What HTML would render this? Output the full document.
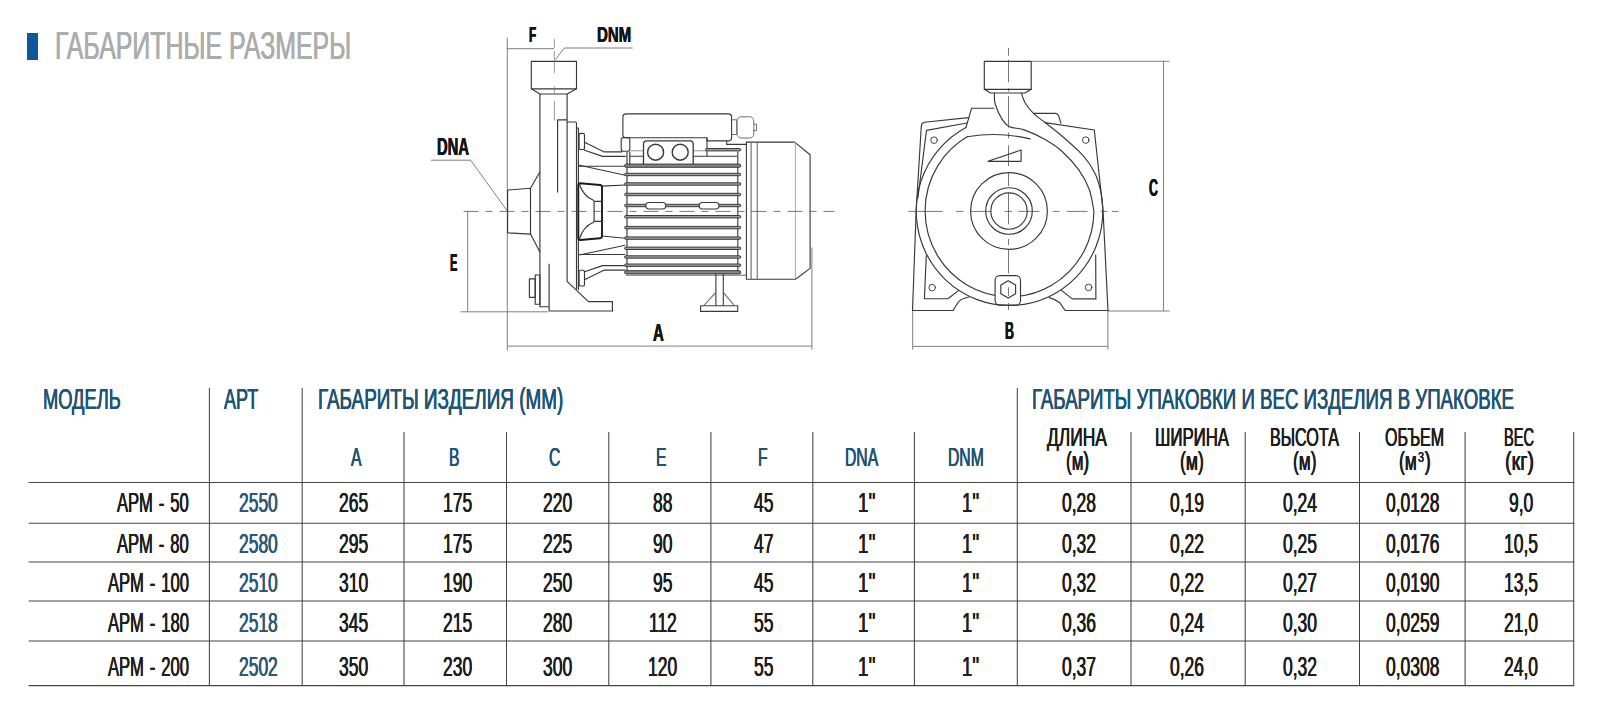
<!DOCTYPE html>
<html lang="ru">
<head>
<meta charset="utf-8">
<title>Габаритные размеры</title>
<style>
html,body{margin:0;padding:0;background:#fff;}
body{width:1600px;height:711px;position:relative;overflow:hidden;font-family:"Liberation Sans",sans-serif;}
.t{position:absolute;white-space:nowrap;line-height:1;transform-origin:0 0;display:block;}
.ttl{color:#adadad;text-shadow:.3px 0 0 currentColor,-.3px 0 0 currentColor;}
.h{color:#1f5476;text-shadow:.4px 0 0 currentColor,-.4px 0 0 currentColor;}
.d{color:#1e1e1e;text-shadow:.4px 0 0 currentColor,-.4px 0 0 currentColor;}
.a{color:#2b5977;text-shadow:.4px 0 0 currentColor,-.4px 0 0 currentColor;}
.l{color:#141414;font-weight:bold;text-shadow:.25px 0 0 currentColor,-.25px 0 0 currentColor;}
.bar{position:absolute;left:27.2px;top:33px;width:10.4px;height:26.6px;background:#0e5a98;}
svg{position:absolute;left:0;top:0;}
sup{font-size:.62em;line-height:0;vertical-align:.5em;margin:0 1.2px 0 1.6px;}
</style>
</head>
<body>
<div class="bar"></div>
<svg width="1600" height="711" viewBox="0 0 1600 711">
<g id="grid" stroke="#444" stroke-width="1.05" fill="none">
<path d="M28.6 482.4H1574.2"/>
<path d="M28.6 523.3H1574.2"/>
<path d="M28.6 562.0H1574.2"/>
<path d="M28.6 601.0H1574.2"/>
<path d="M28.6 641.0H1574.2"/>
<path d="M28.6 685.6H1574.2"/>
<path d="M209.4 388V685.6"/>
<path d="M302.2 388V685.6"/>
<path d="M1017.3 388V685.6"/>
<path d="M404.0 432V685.6"/>
<path d="M506.5 432V685.6"/>
<path d="M608.8 432V685.6"/>
<path d="M710.9 432V685.6"/>
<path d="M812.8 432V685.6"/>
<path d="M914.4 432V685.6"/>
<path d="M1131.0 432V685.6"/>
<path d="M1245.2 432V685.6"/>
<path d="M1359.5 432V685.6"/>
<path d="M1465.1 432V685.6"/>
<path d="M1573.7 432V685.6"/>
</g>
<g id="dims" stroke="#707070" stroke-width="0.9" fill="none">
<path d="M507.3 37.8V350.5"/>
<path d="M506.8 48.7H554.2"/>
<path d="M632.7 48H564.3L555.4 59.6"/>
<path d="M431 160.2H470.7L507.4 211.2"/>
<path d="M467.7 211.3V311.8"/>
<path d="M460.5 311.8H547.8"/>
<path d="M507.3 346.1H812"/>
<path d="M811.9 247.5V349.6"/>
<path d="M1031.5 61.3H1169.5"/>
<path d="M1107.6 311H1169.5"/>
<path d="M1163.5 61.3V311"/>
<path d="M912.7 310.4V349.6"/>
<path d="M1107.9 310.4V349.6"/>
<path d="M912.7 346.4H1107.9"/>
</g>
<g id="side" stroke="#383838" stroke-width="1.15" fill="none" stroke-linejoin="round">
<path d="M531.3 61.3H576.5V88.8H531.3Z"/>
<path d="M531.3 88.8L539.9 94H567.1L576.5 88.8"/>
<path d="M539.9 94V306.7H549.1"/>
<path d="M567.1 94V281.4L588.4 301.6H612.4V311H549.1V263.7"/>
<path d="M507.6 190L530.5 188.3V234.1L507.6 232.8Z"/>
<path d="M530.5 188.3L540 171.8M530.5 234.1L540 252.2"/>
<path d="M557.6 192.4V119.8H567.1"/>
<path d="M567.1 122H575Q576.5 122 576.5 123.5V289.5"/>
<path d="M576.6 128H578.4V290"/>
<rect x="579.1" y="133.3" width="5.4" height="16.2" rx="1.6"/>
<rect x="579.1" y="270.2" width="5.4" height="15.8" rx="1.6"/>
<path d="M529.4 278.9H535.2V297.3H529.4Z"/>
<path d="M535.2 275H539.9V304.2H535.2Z"/>
<path d="M584.5 142.3L604.3 151.9H622.2"/>
<path d="M583.9 150L602.5 156.4H625.8"/>
<path d="M578.4 166.2H625.2"/>
<path d="M578.4 165L625.2 175.2"/>
<path d="M584.5 279.7L604.3 270.1H625.5"/>
<path d="M583.9 272L602.5 265.6H625.8"/>
<path d="M579.4 254.5H625.2"/>
<path d="M579.4 255L625.2 245.2"/>
<path d="M580.2 183.2L600 185Q602 185.2 602 187V236Q602 238 600 238.2L580.2 240Q578.3 240 578.3 237.5V185.7Q578.3 183.2 580.2 183.2Z" stroke-width="1.9" stroke="#1c1c1c"/>
<path d="M579.5 184.5C582 192 587 197.5 593 200L594.1 201.3V221.4L593 222.5C587 225 582 231 579.5 238.7"/>
<path d="M594.1 201.3H601.8M594.1 221.4H601.8"/>
<path d="M602 186.1L625.5 185M602 236L625.5 238.2"/>
<path d="M627 151.9V273M629.8 151.9V164.5"/>
</g>
<g id="motor" stroke="#383838" stroke-width="1.1" fill="none" stroke-linejoin="round">
<path d="M626.1 113.9H728.4Q731.6 113.9 731.6 117.1V137.7Q731.6 140.9 728.4 140.9H707V137.8H626.1Q622.9 137.8 622.9 134.6V117.1Q622.9 113.9 626.1 113.9Z"/>
<rect x="621.2" y="137.6" width="8.6" height="13.7" rx="2"/>
<path d="M707 137.8V156.2"/>
<path d="M629.8 156.2H643.5M693.2 156.2H737.5"/>
<path d="M693.2 150.8H707M629.8 150.8H643.5" stroke="#888" stroke-width="0.9"/>
<path d="M643.5 164V144.1Q643.5 140.9 646.7 140.9H690Q693.2 140.9 693.2 144.1V164" stroke-width="1.3"/>
<circle cx="655.6" cy="152.2" r="8" stroke-width="1.4"/><circle cx="680.2" cy="152.2" r="8" stroke-width="1.4"/>
<g stroke="#666" stroke-width="0.95">
<path d="M731.6 119.8H736.8V134.5H731.6"/>
<rect x="737" y="116.8" width="16.8" height="21.2" rx="4.2"/>
<path d="M753.8 124.2H756.5V130.6H753.8"/>
</g>
<path d="M726.7 140.9V144.4H746.4"/>
<rect x="705.5" y="148.5" width="35.3" height="2.4" rx="1.2" fill="#a0a0a0" stroke="#333" stroke-width="0.95"/>
<path d="M737.8 151.5V272.3"/>
<rect x="624.6" y="164.1" width="116.2" height="3.2" rx="1.6" fill="#888" stroke="#333" stroke-width="0.95"/>
<rect x="624.6" y="173.3" width="116.2" height="2.4" rx="1.2" fill="#a0a0a0" stroke="#333" stroke-width="0.95"/>
<rect x="624.6" y="182.8" width="116.2" height="2.4" rx="1.2" fill="#a0a0a0" stroke="#333" stroke-width="0.95"/>
<rect x="624.6" y="193.3" width="116.2" height="2.4" rx="1.2" fill="#a0a0a0" stroke="#333" stroke-width="0.95"/>
<rect x="624.6" y="204.3" width="116.2" height="2.4" rx="1.2" fill="#a0a0a0" stroke="#333" stroke-width="0.95"/>
<rect x="624.6" y="215.5" width="116.2" height="2.4" rx="1.2" fill="#a0a0a0" stroke="#333" stroke-width="0.95"/>
<rect x="624.6" y="226.4" width="116.2" height="2.4" rx="1.2" fill="#a0a0a0" stroke="#333" stroke-width="0.95"/>
<rect x="624.6" y="236.9" width="116.2" height="2.4" rx="1.2" fill="#a0a0a0" stroke="#333" stroke-width="0.95"/>
<rect x="624.6" y="247.1" width="116.2" height="2.4" rx="1.2" fill="#a0a0a0" stroke="#333" stroke-width="0.95"/>
<rect x="624.6" y="255.8" width="116.2" height="2.4" rx="1.2" fill="#a0a0a0" stroke="#333" stroke-width="0.95"/>
<rect x="624.6" y="264.0" width="116.2" height="2.4" rx="1.2" fill="#a0a0a0" stroke="#333" stroke-width="0.95"/>
<rect x="624.6" y="270.7" width="116.2" height="3.2" rx="1.6" fill="#888" stroke="#333" stroke-width="0.95"/>
<rect x="645.8" y="202.5" width="20" height="6.5" rx="3.25" fill="#fff"/>
<rect x="699.2" y="202.5" width="19.8" height="6.5" rx="3.25" fill="#fff"/>
<path d="M746.4 142.1H794.6L810.1 154.8V268.4L795.5 279.2H746.4Z"/>
<path d="M751.1 142.1V279.2" stroke="#666"/>
<path d="M757.2 142.1V279.2" stroke="#555" stroke-width="0.95"/><path d="M795.4 142.1V279.2" stroke="#999" stroke-width="0.85"/>
<path d="M626 275.2H746.4" stroke="#555" stroke-width="0.9"/>
<path d="M715.9 273.9V305.7M723.3 273.9V305.7"/>
<path d="M700.6 305.7H737.7V311.4H700.6Z"/>
<path d="M715.9 292.3L703.8 305.5M723.3 292.3L734.3 305.5" stroke="#666"/>
</g>
<g id="front" stroke="#383838" stroke-width="1.15" fill="none" stroke-linejoin="round" stroke-linecap="round">
<path d="M984.3 61.3H1031.2V89.3H984.3Z"/>
<path d="M984.3 89.3L990.5 93H1025L1031.2 89.3"/>
<path d="M993.9 108.2H971.6L966.0 127.4"/>
<path d="M968.5 117.6L924.5 122.3Q921.6 122.8 921.3 126L916.2 210L912.5 310.4"/>
<path d="M966.9 123L926.5 130.4L917.9 198"/>
<path d="M1033.9 113.4H1055.4Q1057.8 113.4 1058.6 115.8L1060.9 123.2"/>
<path d="M1045 122.6L1094.3 130L1103 210L1108 310.4"/>
<path d="M994.4 93.0C994.5 94.8 993.9 99.7 995.2 104.0C996.5 108.3 999.6 115.3 1002.0 119.1C1004.4 122.9 1005.8 124.9 1009.6 126.7C1013.4 128.5 1018.9 128.0 1024.8 130.1C1030.7 132.2 1038.8 135.9 1045.0 139.4C1051.2 142.9 1056.3 146.1 1061.9 151.2C1067.5 156.3 1074.2 163.4 1078.8 169.8C1083.4 176.2 1086.8 182.6 1089.3 189.5C1091.8 196.4 1093.1 207.4 1093.9 211.0A84.4 85.7 0 1 1 967.2 136.8"/>
<path d="M967.2 136.8Q999 131.4 1030.2 138.9"/>
<rect x="995.1" y="275.6" width="25.4" height="29.5" rx="4.6" fill="#fff"/>
<path d="M1021.4 93.0C1022.0 94.5 1022.8 98.9 1024.8 102.3C1026.8 105.7 1029.8 109.8 1033.2 113.2C1036.6 116.6 1040.2 118.7 1045.0 122.5C1049.8 126.3 1056.3 131.2 1061.9 136.0C1067.5 140.8 1074.3 146.7 1078.8 151.2C1083.3 155.7 1086.1 159.0 1088.9 163.0C1091.7 167.0 1094.6 173.0 1095.8 175.0A93.3 94.5 0 1 1 966.0 127.4"/>
<circle cx="1009" cy="211" r="18.2"/>
<circle cx="1009" cy="211" r="23.3"/>
<circle cx="1009" cy="211" r="38.4"/>
<path d="M988 161.3L1021.1 150V161.3Z"/>
<path d="M912.5 310.5H953.1L958 302.5Q961 298.6 968.9 297"/>
<path d="M1108 310.5H1065.1L1059.9 302.9Q1056 299.3 1049.4 297.6"/>
<path d="M926.3 255.5L924.4 298.7H947.9L958.8 290.4"/>
<path d="M1095.7 255L1095.9 298.9H1072.1L1061.6 290.4"/>
<circle cx="934.1" cy="140.2" r="3.3" stroke-width="0.95"/>
<circle cx="1085.8" cy="140.1" r="3.3" stroke-width="0.95"/>
<circle cx="932.2" cy="287.6" r="3.3" stroke-width="0.95"/>
<circle cx="1088.6" cy="287.4" r="3.3" stroke-width="0.95"/>
<path d="M1008.2 280.8L1015.6 285.1L1015.6 293.7L1008.2 298.0L1000.8 293.7L1000.8 285.1Z"/>
</g>
<g id="center" stroke="#4a4a4a" stroke-width="0.75" fill="none">
<path d="M554.4 39V47.5M554.4 51V73M554.4 86.3V93.3M554.4 101V120.5" stroke="#777"/>
<path d="M463.5 211.4H834.5" stroke-dasharray="15 7 7 7"/>
<path d="M1008.5 47.9V55.7M1008.5 59.7V82.3M1008.5 88.2V91.6M1008.5 96.1V127.6M1008.5 132.5V138.4M1008.5 145.3V166M1008.5 172V186M1008.5 192.8V224.3M1008.5 239V245M1008.5 248.9V273.5M1008.5 287.3V296.1M1008.5 303V310"/>
<path d="M908.2 211.4H942.7M955.9 211.4H963.3M970.6 211.4H991.2M1004.5 211.4H1012M1018.3 211.4H1039.6M1052.9 211.4H1059.5M1066.8 211.4H1087.4M1100.6 211.4H1107.2M1112 211.4H1118.5"/>
</g>

</svg>
<span class="t ttl" style="left:55.00px;top:26.80px;font-size:38.8px;transform:scaleX(0.6413)">ГАБАРИТНЫЕ РАЗМЕРЫ</span>
<span class="t h" style="left:42.75px;top:384.70px;font-size:29px;transform:scaleX(0.6307)">МОДЕЛЬ</span>
<span class="t h" style="left:223.90px;top:384.70px;font-size:29px;transform:scaleX(0.6204)">АРТ</span>
<span class="t h" style="left:318.00px;top:384.70px;font-size:29px;transform:scaleX(0.6517)">ГАБАРИТЫ ИЗДЕЛИЯ (ММ)</span>
<span class="t h" style="left:1032.30px;top:384.70px;font-size:29px;transform:scaleX(0.6436)">ГАБАРИТЫ УПАКОВКИ И ВЕС ИЗДЕЛИЯ В УПАКОВКЕ</span>
<span class="t h" style="left:350.67px;top:444.30px;font-size:26.2px;transform:scaleX(0.6000)">A</span>
<span class="t h" style="left:448.67px;top:444.30px;font-size:26.2px;transform:scaleX(0.6000)">B</span>
<span class="t h" style="left:549.32px;top:444.30px;font-size:26.2px;transform:scaleX(0.6000)">C</span>
<span class="t h" style="left:655.77px;top:444.30px;font-size:26.2px;transform:scaleX(0.6000)">E</span>
<span class="t h" style="left:758.39px;top:444.30px;font-size:26.2px;transform:scaleX(0.6000)">F</span>
<span class="t h" style="left:844.92px;top:444.30px;font-size:26.2px;transform:scaleX(0.6000)">DNA</span>
<span class="t h" style="left:948.10px;top:444.30px;font-size:26.2px;transform:scaleX(0.6000)">DNM</span>
<span class="t d" style="left:1046.90px;top:425.20px;font-size:25px;transform:scaleX(0.6967)">ДЛИНА</span>
<span class="t d" style="left:1065.60px;top:449.20px;font-size:25px;transform:scaleX(0.6819)">(м)</span>
<span class="t d" style="left:1154.70px;top:425.20px;font-size:25px;transform:scaleX(0.6713)">ШИРИНА</span>
<span class="t d" style="left:1179.60px;top:449.20px;font-size:25px;transform:scaleX(0.7026)">(м)</span>
<span class="t d" style="left:1270.00px;top:425.20px;font-size:25px;transform:scaleX(0.6449)">ВЫСОТА</span>
<span class="t d" style="left:1293.00px;top:449.20px;font-size:25px;transform:scaleX(0.6937)">(м)</span>
<span class="t d" style="left:1385.30px;top:425.20px;font-size:25px;transform:scaleX(0.6407)">ОБЪЕМ</span>
<span class="t d" style="left:1399.40px;top:449.20px;font-size:25px;transform:scaleX(0.7000)">(м<sup>3</sup>)</span>
<span class="t d" style="left:1504.40px;top:425.20px;font-size:25px;transform:scaleX(0.5839)">ВЕС</span>
<span class="t d" style="left:1505.00px;top:449.20px;font-size:25px;transform:scaleX(0.7891)">(кг)</span>
<span class="t d" style="left:116.76px;top:489.70px;font-size:27px;word-spacing:2.2px;transform:scaleX(0.6150)">АРМ - 50</span>
<span class="t a" style="left:239.10px;top:489.70px;font-size:27px;transform:scaleX(0.6460)">2550</span>
<span class="t d" style="left:339.35px;top:489.70px;font-size:27px;transform:scaleX(0.6460)">265</span>
<span class="t d" style="left:443.05px;top:489.70px;font-size:27px;transform:scaleX(0.6460)">175</span>
<span class="t d" style="left:542.95px;top:489.70px;font-size:27px;transform:scaleX(0.6460)">220</span>
<span class="t d" style="left:653.30px;top:489.70px;font-size:27px;transform:scaleX(0.6460)">88</span>
<span class="t d" style="left:753.80px;top:489.70px;font-size:27px;transform:scaleX(0.6460)">45</span>
<span class="t d" style="left:858.40px;top:489.70px;font-size:27px;transform:scaleX(0.6936)">1''</span>
<span class="t d" style="left:961.90px;top:489.70px;font-size:27px;transform:scaleX(0.6778)">1''</span>
<span class="t d" style="left:1061.63px;top:489.70px;font-size:27px;transform:scaleX(0.6460)">0,28</span>
<span class="t d" style="left:1169.53px;top:489.70px;font-size:27px;transform:scaleX(0.6460)">0,19</span>
<span class="t d" style="left:1283.33px;top:489.70px;font-size:27px;transform:scaleX(0.6460)">0,24</span>
<span class="t d" style="left:1385.83px;top:489.70px;font-size:27px;transform:scaleX(0.6460)">0,0128</span>
<span class="t d" style="left:1509.28px;top:489.70px;font-size:27px;transform:scaleX(0.6460)">9,0</span>
<span class="t d" style="left:116.76px;top:531.00px;font-size:27px;word-spacing:2.2px;transform:scaleX(0.6150)">АРМ - 80</span>
<span class="t a" style="left:239.10px;top:531.00px;font-size:27px;transform:scaleX(0.6460)">2580</span>
<span class="t d" style="left:339.35px;top:531.00px;font-size:27px;transform:scaleX(0.6460)">295</span>
<span class="t d" style="left:443.05px;top:531.00px;font-size:27px;transform:scaleX(0.6460)">175</span>
<span class="t d" style="left:542.95px;top:531.00px;font-size:27px;transform:scaleX(0.6460)">225</span>
<span class="t d" style="left:653.30px;top:531.00px;font-size:27px;transform:scaleX(0.6460)">90</span>
<span class="t d" style="left:753.80px;top:531.00px;font-size:27px;transform:scaleX(0.6460)">47</span>
<span class="t d" style="left:858.40px;top:531.00px;font-size:27px;transform:scaleX(0.6936)">1''</span>
<span class="t d" style="left:961.90px;top:531.00px;font-size:27px;transform:scaleX(0.6778)">1''</span>
<span class="t d" style="left:1061.63px;top:531.00px;font-size:27px;transform:scaleX(0.6460)">0,32</span>
<span class="t d" style="left:1169.53px;top:531.00px;font-size:27px;transform:scaleX(0.6460)">0,22</span>
<span class="t d" style="left:1283.33px;top:531.00px;font-size:27px;transform:scaleX(0.6460)">0,25</span>
<span class="t d" style="left:1385.83px;top:531.00px;font-size:27px;transform:scaleX(0.6460)">0,0176</span>
<span class="t d" style="left:1504.43px;top:531.00px;font-size:27px;transform:scaleX(0.6460)">10,5</span>
<span class="t d" style="left:107.54px;top:569.80px;font-size:27px;word-spacing:2.2px;transform:scaleX(0.6150)">АРМ - 100</span>
<span class="t a" style="left:239.10px;top:569.80px;font-size:27px;transform:scaleX(0.6460)">2510</span>
<span class="t d" style="left:339.35px;top:569.80px;font-size:27px;transform:scaleX(0.6460)">310</span>
<span class="t d" style="left:443.05px;top:569.80px;font-size:27px;transform:scaleX(0.6460)">190</span>
<span class="t d" style="left:542.95px;top:569.80px;font-size:27px;transform:scaleX(0.6460)">250</span>
<span class="t d" style="left:653.30px;top:569.80px;font-size:27px;transform:scaleX(0.6460)">95</span>
<span class="t d" style="left:753.80px;top:569.80px;font-size:27px;transform:scaleX(0.6460)">45</span>
<span class="t d" style="left:858.40px;top:569.80px;font-size:27px;transform:scaleX(0.6936)">1''</span>
<span class="t d" style="left:961.90px;top:569.80px;font-size:27px;transform:scaleX(0.6778)">1''</span>
<span class="t d" style="left:1061.63px;top:569.80px;font-size:27px;transform:scaleX(0.6460)">0,32</span>
<span class="t d" style="left:1169.53px;top:569.80px;font-size:27px;transform:scaleX(0.6460)">0,22</span>
<span class="t d" style="left:1283.33px;top:569.80px;font-size:27px;transform:scaleX(0.6460)">0,27</span>
<span class="t d" style="left:1385.83px;top:569.80px;font-size:27px;transform:scaleX(0.6460)">0,0190</span>
<span class="t d" style="left:1504.43px;top:569.80px;font-size:27px;transform:scaleX(0.6460)">13,5</span>
<span class="t d" style="left:107.54px;top:609.80px;font-size:27px;word-spacing:2.2px;transform:scaleX(0.6150)">АРМ - 180</span>
<span class="t a" style="left:239.10px;top:609.80px;font-size:27px;transform:scaleX(0.6460)">2518</span>
<span class="t d" style="left:339.35px;top:609.80px;font-size:27px;transform:scaleX(0.6460)">345</span>
<span class="t d" style="left:443.05px;top:609.80px;font-size:27px;transform:scaleX(0.6460)">215</span>
<span class="t d" style="left:542.95px;top:609.80px;font-size:27px;transform:scaleX(0.6460)">280</span>
<span class="t d" style="left:649.10px;top:609.80px;font-size:27px;transform:scaleX(0.6460)">112</span>
<span class="t d" style="left:753.80px;top:609.80px;font-size:27px;transform:scaleX(0.6460)">55</span>
<span class="t d" style="left:858.40px;top:609.80px;font-size:27px;transform:scaleX(0.6936)">1''</span>
<span class="t d" style="left:961.90px;top:609.80px;font-size:27px;transform:scaleX(0.6778)">1''</span>
<span class="t d" style="left:1061.63px;top:609.80px;font-size:27px;transform:scaleX(0.6460)">0,36</span>
<span class="t d" style="left:1169.53px;top:609.80px;font-size:27px;transform:scaleX(0.6460)">0,24</span>
<span class="t d" style="left:1283.33px;top:609.80px;font-size:27px;transform:scaleX(0.6460)">0,30</span>
<span class="t d" style="left:1385.83px;top:609.80px;font-size:27px;transform:scaleX(0.6460)">0,0259</span>
<span class="t d" style="left:1504.43px;top:609.80px;font-size:27px;transform:scaleX(0.6460)">21,0</span>
<span class="t d" style="left:107.54px;top:653.90px;font-size:27px;word-spacing:2.2px;transform:scaleX(0.6150)">АРМ - 200</span>
<span class="t a" style="left:239.10px;top:653.90px;font-size:27px;transform:scaleX(0.6460)">2502</span>
<span class="t d" style="left:339.35px;top:653.90px;font-size:27px;transform:scaleX(0.6460)">350</span>
<span class="t d" style="left:443.05px;top:653.90px;font-size:27px;transform:scaleX(0.6460)">230</span>
<span class="t d" style="left:542.95px;top:653.90px;font-size:27px;transform:scaleX(0.6460)">300</span>
<span class="t d" style="left:648.45px;top:653.90px;font-size:27px;transform:scaleX(0.6460)">120</span>
<span class="t d" style="left:753.80px;top:653.90px;font-size:27px;transform:scaleX(0.6460)">55</span>
<span class="t d" style="left:858.40px;top:653.90px;font-size:27px;transform:scaleX(0.6936)">1''</span>
<span class="t d" style="left:961.90px;top:653.90px;font-size:27px;transform:scaleX(0.6778)">1''</span>
<span class="t d" style="left:1061.63px;top:653.90px;font-size:27px;transform:scaleX(0.6460)">0,37</span>
<span class="t d" style="left:1169.53px;top:653.90px;font-size:27px;transform:scaleX(0.6460)">0,26</span>
<span class="t d" style="left:1283.33px;top:653.90px;font-size:27px;transform:scaleX(0.6460)">0,32</span>
<span class="t d" style="left:1385.83px;top:653.90px;font-size:27px;transform:scaleX(0.6460)">0,0308</span>
<span class="t d" style="left:1504.43px;top:653.90px;font-size:27px;transform:scaleX(0.6460)">24,0</span>
<span class="t l" style="left:529.00px;top:23.95px;font-size:22.6px;transform:scaleX(0.5213)">F</span>
<span class="t l" style="left:596.90px;top:23.95px;font-size:22.6px;transform:scaleX(0.6644)">DNM</span>
<span class="t l" style="left:436.70px;top:135.70px;font-size:23.2px;transform:scaleX(0.6363)">DNA</span>
<span class="t l" style="left:450.00px;top:251.60px;font-size:23.2px;transform:scaleX(0.4797)">E</span>
<span class="t l" style="left:653.10px;top:321.90px;font-size:23.2px;transform:scaleX(0.6427)">A</span>
<span class="t l" style="left:1004.80px;top:319.60px;font-size:23.2px;transform:scaleX(0.5356)">B</span>
<span class="t l" style="left:1149.20px;top:176.80px;font-size:23.2px;transform:scaleX(0.5356)">C</span>
</body>
</html>
